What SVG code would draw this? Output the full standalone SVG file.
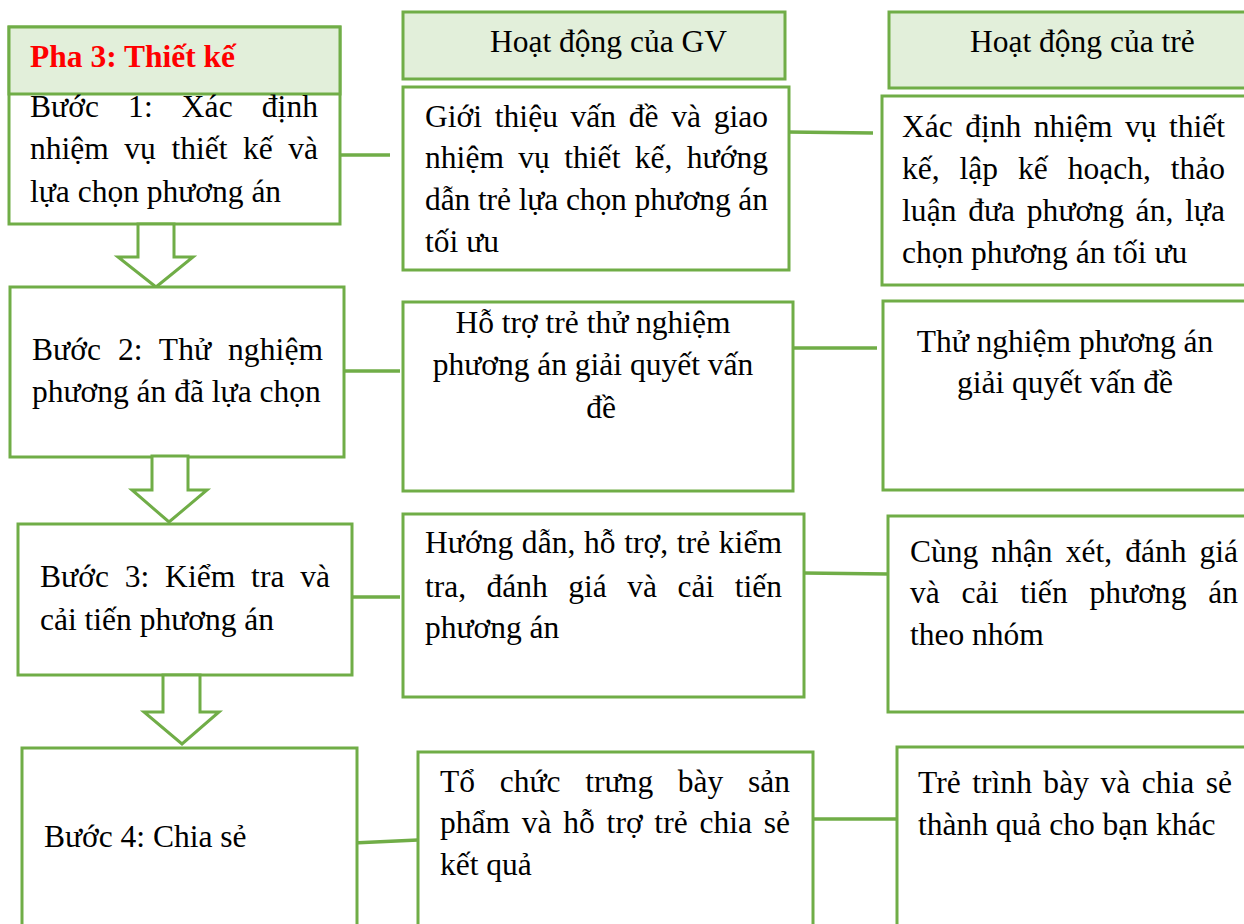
<svg xmlns="http://www.w3.org/2000/svg" width="1244" height="924" viewBox="0 0 1244 924">
  <style>
    .box { fill: #ffffff; stroke: #70AD47; stroke-width: 3; }
    .head { fill: #E2EFDA; stroke: #70AD47; stroke-width: 3; }
    .arrow { fill: #ffffff; stroke: #70AD47; stroke-width: 3; stroke-linejoin: miter; }
    .link { stroke: #70AD47; stroke-width: 3.5; fill: none; }
    text { font-family: "Liberation Serif", "Times New Roman", serif; font-size: 31.5px; fill: #000000; }
    .title { font-weight: bold; fill: #FF0000; }
    .mid { text-anchor: middle; }
  </style>
  <rect width="1244" height="924" fill="#ffffff"/>

  <!-- connectors between steps and activities -->
  <g id="connectors">
    <line class="link" x1="340" y1="155" x2="390" y2="155"/>
    <line class="link" x1="343" y1="371" x2="400" y2="371"/>
    <line class="link" x1="350" y1="597" x2="400" y2="597"/>
    <line class="link" x1="353" y1="843" x2="418" y2="840"/>
    <line class="link" x1="787" y1="132" x2="873" y2="133"/>
    <line class="link" x1="790" y1="348" x2="877" y2="348"/>
    <line class="link" x1="803" y1="573" x2="888" y2="574"/>
    <line class="link" x1="810" y1="819" x2="897" y2="819"/>
  </g>

  <!-- left column: steps -->
  <g id="step1">
    <rect class="box" x="9" y="27" width="331" height="197"/>
    <rect class="head" x="9" y="27" width="331" height="67"/>
    <text class="title" x="30" y="67">Pha 3: Thiết kế</text>
    <text x="30" y="117" word-spacing="21" textLength="288" lengthAdjust="spacing">Bước 1: Xác định</text>
    <text x="30" y="159" word-spacing="7.7" textLength="288" lengthAdjust="spacing">nhiệm vụ thiết kế và</text>
    <text x="30" y="202">lựa chọn phương án</text>
  </g>
  <g id="arrow1">
    <polygon class="arrow" points="138,224 174,224 174,257 193,257 156,287 118,257 138,257"/>
  </g>
  <g id="step2">
    <rect class="box" x="10" y="287" width="334" height="170"/>
    <text x="32" y="360" word-spacing="8.8" textLength="291" lengthAdjust="spacing">Bước 2: Thử nghiệm</text>
    <text x="32" y="402">phương án đã lựa chọn</text>
  </g>
  <g id="arrow2">
    <polygon class="arrow" points="152,456 188,456 188,490 207,490 169,522 132,490 152,490"/>
  </g>
  <g id="step3">
    <rect class="box" x="18" y="524" width="334" height="151"/>
    <text x="40" y="587" word-spacing="7.8" textLength="290" lengthAdjust="spacing">Bước 3: Kiểm tra và</text>
    <text x="40" y="630">cải tiến phương án</text>
  </g>
  <g id="arrow3">
    <polygon class="arrow" points="163,675 200,675 200,712 219,712 182,744 144,712 163,712"/>
  </g>
  <g id="step4">
    <rect class="box" x="22" y="748" width="335" height="190"/>
    <text x="44" y="847">Bước 4: Chia sẻ</text>
  </g>

  <!-- middle column: teacher activities -->
  <g id="gv-header">
    <rect class="head" x="403" y="12" width="382" height="67"/>
    <text x="490" y="52">Hoạt động của GV</text>
  </g>
  <g id="gv1">
    <rect class="box" x="403" y="87" width="386" height="183"/>
    <text x="425" y="127" word-spacing="4.7" textLength="343" lengthAdjust="spacing">Giới thiệu vấn đề và giao</text>
    <text x="425" y="168" word-spacing="6.4" textLength="343" lengthAdjust="spacing">nhiệm vụ thiết kế, hướng</text>
    <text x="425" y="210" textLength="343" lengthAdjust="spacing">dẫn trẻ lựa chọn phương án</text>
    <text x="425" y="252">tối ưu</text>
  </g>
  <g id="gv2">
    <rect class="box" x="403" y="302" width="390" height="189"/>
    <text class="mid" x="593" y="333">Hỗ trợ trẻ thử nghiệm</text>
    <text class="mid" x="593" y="375">phương án giải quyết vấn</text>
    <text class="mid" x="601" y="418">đề</text>
  </g>
  <g id="gv3">
    <rect class="box" x="403" y="514" width="401" height="183"/>
    <text x="425" y="553" word-spacing="0.6" textLength="357" lengthAdjust="spacing">Hướng dẫn, hỗ trợ, trẻ kiểm</text>
    <text x="425" y="597" word-spacing="12.6" textLength="357" lengthAdjust="spacing">tra, đánh giá và cải tiến</text>
    <text x="425" y="638">phương án</text>
  </g>
  <g id="gv4">
    <rect class="box" x="418" y="752" width="395" height="190"/>
    <text x="440" y="792" word-spacing="16.7" textLength="350" lengthAdjust="spacing">Tổ chức trưng bày sản</text>
    <text x="440" y="833" word-spacing="3.8" textLength="350" lengthAdjust="spacing">phẩm và hỗ trợ trẻ chia sẻ</text>
    <text x="440" y="875">kết quả</text>
  </g>

  <!-- right column: children's activities -->
  <g id="tre-header">
    <rect class="head" x="889" y="12" width="370" height="76"/>
    <text x="970" y="52">Hoạt động của trẻ</text>
  </g>
  <g id="tre1">
    <rect class="box" x="882" y="96" width="377" height="189"/>
    <text x="902" y="137" word-spacing="4.6" textLength="323" lengthAdjust="spacing">Xác định nhiệm vụ thiết</text>
    <text x="902" y="179" word-spacing="12.1" textLength="323" lengthAdjust="spacing">kế, lập kế hoạch, thảo</text>
    <text x="902" y="221" word-spacing="3.7" textLength="323" lengthAdjust="spacing">luận đưa phương án, lựa</text>
    <text x="902" y="263">chọn phương án tối ưu</text>
  </g>
  <g id="tre2">
    <rect class="box" x="883" y="301" width="376" height="189"/>
    <text class="mid" x="1065" y="352">Thử nghiệm phương án</text>
    <text class="mid" x="1065" y="393">giải quyết vấn đề</text>
  </g>
  <g id="tre3">
    <rect class="box" x="888" y="516" width="371" height="196"/>
    <text x="910" y="562" word-spacing="5.2" textLength="328" lengthAdjust="spacing">Cùng nhận xét, đánh giá</text>
    <text x="910" y="603" word-spacing="13.8" textLength="328" lengthAdjust="spacing">và cải tiến phương án</text>
    <text x="910" y="645">theo nhóm</text>
  </g>
  <g id="tre4">
    <rect class="box" x="897" y="747" width="362" height="195"/>
    <text x="918" y="793" word-spacing="3.5" textLength="314" lengthAdjust="spacing">Trẻ trình bày và chia sẻ</text>
    <text x="918" y="835">thành quả cho bạn khác</text>
  </g>
</svg>
